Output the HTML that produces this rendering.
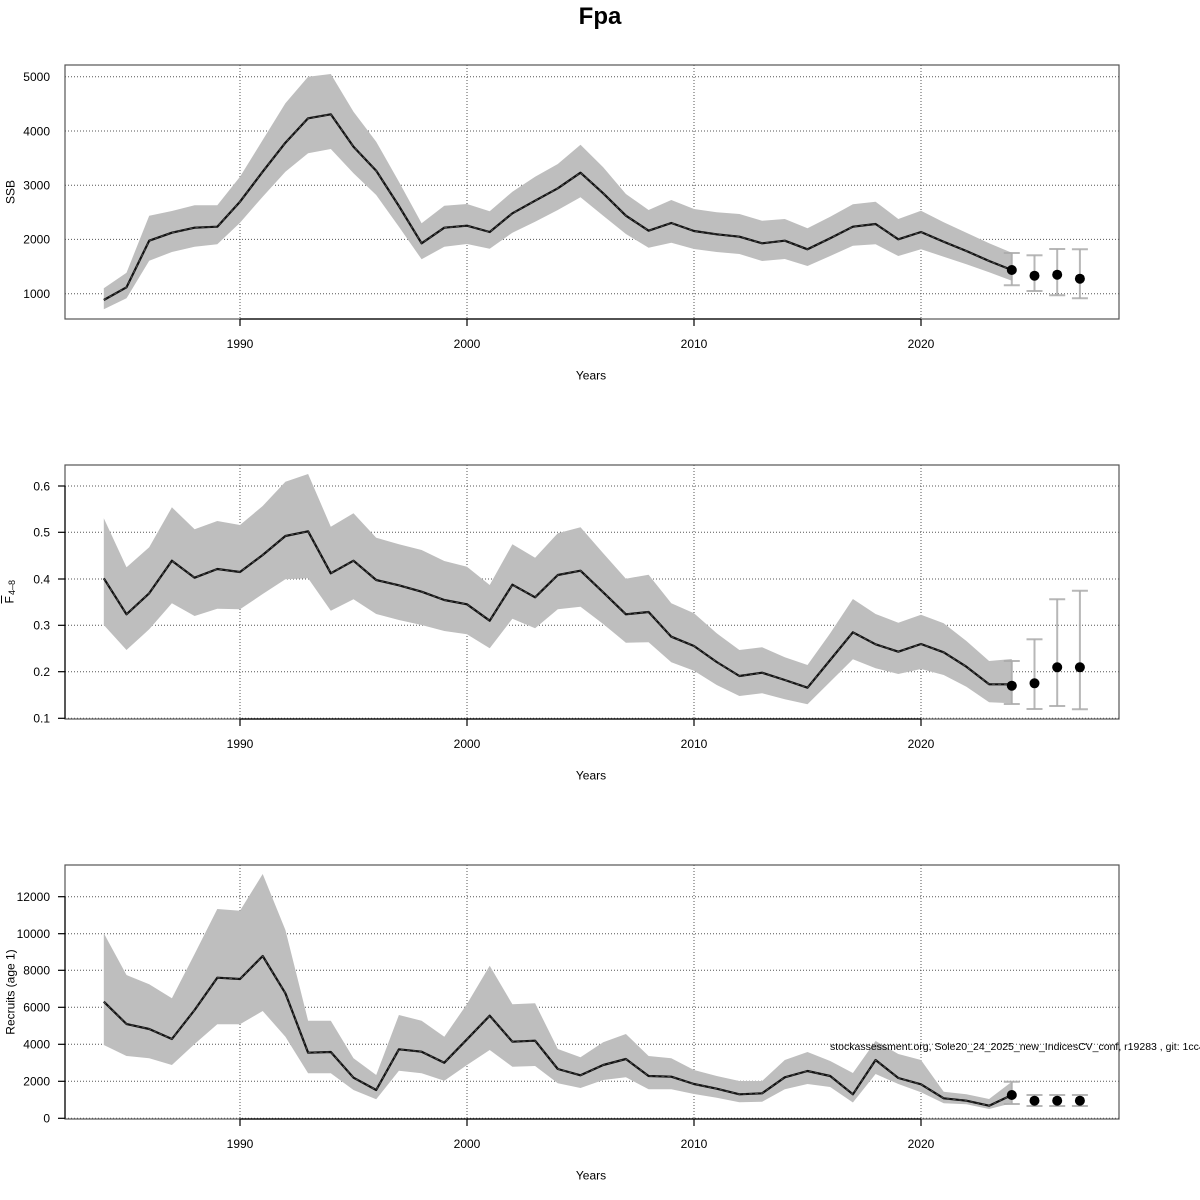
<!DOCTYPE html>
<html><head><meta charset="utf-8"><style>
html,body{margin:0;padding:0;background:#fff;}
svg{display:block;font-family:"Liberation Sans",Arial,sans-serif;}
</style></head><body>
<svg width="1200" height="1200" viewBox="0 0 1200 1200" xmlns="http://www.w3.org/2000/svg">
<rect width="1200" height="1200" fill="#fff"/>
<text x="600" y="24" font-size="24" font-weight="bold" text-anchor="middle">Fpa</text>

<!-- ============ PANEL 1 ============ -->
<g stroke="#555" stroke-width="1" stroke-dasharray="1 2" fill="none">
<line x1="65" x2="1119" y1="293.7" y2="293.7"/><line x1="65" x2="1119" y1="239.4" y2="239.4"/><line x1="65" x2="1119" y1="185.2" y2="185.2"/><line x1="65" x2="1119" y1="131" y2="131"/><line x1="65" x2="1119" y1="76.7" y2="76.7"/>
<line x1="240" x2="240" y1="65" y2="319"/><line x1="467" x2="467" y1="65" y2="319"/><line x1="694" x2="694" y1="65" y2="319"/><line x1="921" x2="921" y1="65" y2="319"/>
</g>
<polygon fill="#bebebe" points="103.8,288.3 126.5,272.7 149.2,215.7 171.9,211 194.6,205.3 217.3,205.3 240,176.7 262.7,140 285.4,103.3 308.1,76.7 330.8,74 353.5,111.7 376.2,141.7 398.9,181.7 421.6,223.3 444.3,205.7 467,204 489.7,211.3 512.4,191.7 535.1,176.7 557.8,164 580.5,144.7 603.2,167.3 625.9,194 648.6,210 671.3,200 694,209 716.7,212.3 739.4,214 762.1,220.7 784.8,219 807.5,228.3 830.2,216.7 852.9,204.3 875.6,201.7 898.3,219 921,210.7 943.7,222.3 966.4,232.7 989.1,243.3 1011.8,252.7 1011.8,280.7 989.1,272.3 966.4,264.3 943.7,256.7 921,249.3 898.3,256 875.6,244.3 852.9,245.7 830.2,256 807.5,266 784.8,259 762.1,261 739.4,254 716.7,252 694,249 671.3,242.7 648.6,247.7 625.9,234 603.2,215.7 580.5,197.3 557.8,210 535.1,221.7 512.4,232.7 489.7,248.7 467,244 444.3,246.7 421.6,259.3 398.9,226.7 376.2,195 353.5,173.3 330.8,149 308.1,153.3 285.4,171.7 262.7,196.7 240,222.7 217.3,244.3 194.6,246.7 171.9,252 149.2,260.7 126.5,298.3 103.8,309.3"/>
<g fill="none" stroke-linejoin="round">
<polyline stroke="#111" stroke-width="2.2" points="103.8,300 126.5,287.3 149.2,240.7 171.9,232.7 194.6,227.7 217.3,226.7 240,201.7 262.7,171.7 285.4,142.7 308.1,118.3 330.8,114.3 353.5,146.7 376.2,170.7 398.9,206 421.6,243.3 444.3,227.7 467,225.7 489.7,232 512.4,213.3 535.1,200.7 557.8,188.3 580.5,172.7 603.2,193.3 625.9,215.7 648.6,230.7 671.3,223 694,231 716.7,234.3 739.4,236.7 762.1,243.3 784.8,240.7 807.5,249.3 830.2,238.3 852.9,226.7 875.6,224 898.3,239.3 921,232 943.7,241.7 966.4,251 989.1,261 1011.8,270"/>
<polyline stroke="#555" stroke-width="0.8" stroke-dasharray="3 3" points="103.8,300 126.5,287.3 149.2,240.7 171.9,232.7 194.6,227.7 217.3,226.7 240,201.7 262.7,171.7 285.4,142.7 308.1,118.3 330.8,114.3 353.5,146.7 376.2,170.7 398.9,206 421.6,243.3 444.3,227.7 467,225.7 489.7,232 512.4,213.3 535.1,200.7 557.8,188.3 580.5,172.7 603.2,193.3 625.9,215.7 648.6,230.7 671.3,223 694,231 716.7,234.3 739.4,236.7 762.1,243.3 784.8,240.7 807.5,249.3 830.2,238.3 852.9,226.7 875.6,224 898.3,239.3 921,232 943.7,241.7 966.4,251 989.1,261 1011.8,270"/>
</g>
<g stroke="#aaa" stroke-opacity="0.85" stroke-width="2" fill="none">
<line x1="1011.8" x2="1011.8" y1="253" y2="285.3"/><line x1="1003.8" x2="1019.8" y1="253" y2="253"/><line x1="1003.8" x2="1019.8" y1="285.3" y2="285.3"/>
<line x1="1034.5" x2="1034.5" y1="255.3" y2="291"/><line x1="1026.5" x2="1042.5" y1="255.3" y2="255.3"/><line x1="1026.5" x2="1042.5" y1="291" y2="291"/>
<line x1="1057.2" x2="1057.2" y1="249" y2="295.3"/><line x1="1049.2" x2="1065.2" y1="249" y2="249"/><line x1="1049.2" x2="1065.2" y1="295.3" y2="295.3"/>
<line x1="1079.9" x2="1079.9" y1="249.3" y2="298.3"/><line x1="1071.9" x2="1087.9" y1="249.3" y2="249.3"/><line x1="1071.9" x2="1087.9" y1="298.3" y2="298.3"/>
</g>
<g fill="#000"><circle cx="1011.8" cy="270" r="5"/><circle cx="1034.5" cy="275.7" r="5"/><circle cx="1057.2" cy="274.7" r="5"/><circle cx="1079.9" cy="278.7" r="5"/></g>
<rect x="65" y="65" width="1054" height="254" fill="none" stroke="#555" stroke-width="1.2"/>
<g stroke="#000" stroke-width="1.2"><line x1="240" x2="921" y1="319" y2="319"/><line x1="240" x2="240" y1="319" y2="326"/><line x1="467" x2="467" y1="319" y2="326"/><line x1="694" x2="694" y1="319" y2="326"/><line x1="921" x2="921" y1="319" y2="326"/></g>
<g font-size="12" fill="#000">
<g text-anchor="end"><text x="50" y="298">1000</text><text x="50" y="243.7">2000</text><text x="50" y="189.5">3000</text><text x="50" y="135.3">4000</text><text x="50" y="81">5000</text></g>
<g text-anchor="middle"><text x="240" y="348">1990</text><text x="467" y="348">2000</text><text x="694" y="348">2010</text><text x="921" y="348">2020</text><text x="591" y="379.5">Years</text></g>
<text transform="translate(14.5,192) rotate(-90)" text-anchor="middle">SSB</text>
</g>

<!-- ============ PANEL 2 ============ -->
<g stroke="#555" stroke-width="1" stroke-dasharray="1 2" fill="none">
<line x1="65" x2="1119" y1="718.3" y2="718.3"/><line x1="65" x2="1119" y1="671.7" y2="671.7"/><line x1="65" x2="1119" y1="625.3" y2="625.3"/><line x1="65" x2="1119" y1="579" y2="579"/><line x1="65" x2="1119" y1="532.3" y2="532.3"/><line x1="65" x2="1119" y1="486" y2="486"/>
<line x1="240" x2="240" y1="465" y2="719"/><line x1="467" x2="467" y1="465" y2="719"/><line x1="694" x2="694" y1="465" y2="719"/><line x1="921" x2="921" y1="465" y2="719"/>
</g>
<polygon fill="#bebebe" points="103.8,518.3 126.5,567.3 149.2,547.3 171.9,507.3 194.6,529.3 217.3,521 240,525 262.7,506 285.4,481.7 308.1,474 330.8,526.7 353.5,513.3 376.2,537.7 398.9,544.3 421.6,550 444.3,561 467,566.7 489.7,585 512.4,544.3 535.1,557.7 557.8,533.3 580.5,527.3 603.2,553.3 625.9,578.7 648.6,574.7 671.3,603.3 694,613.3 716.7,633.3 739.4,650 762.1,647.3 784.8,657.3 807.5,665 830.2,633.3 852.9,599 875.6,614 898.3,622.7 921,614.7 943.7,623.3 966.4,641 989.1,661 1011.8,659 1011.8,703.3 989.1,702.3 966.4,686.7 943.7,675 921,669 898.3,674 875.6,668.3 852.9,659.3 830.2,681.7 807.5,704.3 784.8,699.3 762.1,693.3 739.4,696 716.7,685 694,670.7 671.3,662.3 648.6,642.3 625.9,642.7 603.2,624 580.5,606.7 557.8,609.3 535.1,628.3 512.4,618.7 489.7,648.3 467,634.3 444.3,631 421.6,625 398.9,620 376.2,614 353.5,599.3 330.8,610.7 308.1,578.3 285.4,579.3 262.7,594 240,609.3 217.3,608.7 194.6,616 171.9,603.3 149.2,629.3 126.5,650 103.8,625"/>
<g fill="none" stroke-linejoin="round">
<polyline stroke="#111" stroke-width="2.2" points="103.8,578.3 126.5,614.3 149.2,593.3 171.9,560.7 194.6,577.7 217.3,569 240,572 262.7,555 285.4,536 308.1,531.3 330.8,573.3 353.5,560.7 376.2,580 398.9,585.3 421.6,591.7 444.3,600 467,604.3 489.7,620.7 512.4,584.7 535.1,597.3 557.8,575 580.5,570.7 603.2,592.3 625.9,614.3 648.6,612 671.3,636.7 694,646 716.7,662 739.4,676 762.1,672.7 784.8,680 807.5,687.7 830.2,660 852.9,632.3 875.6,644.3 898.3,651.7 921,644 943.7,652.3 966.4,666.7 989.1,684.3 1011.8,684.3"/>
<polyline stroke="#555" stroke-width="0.8" stroke-dasharray="3 3" points="103.8,578.3 126.5,614.3 149.2,593.3 171.9,560.7 194.6,577.7 217.3,569 240,572 262.7,555 285.4,536 308.1,531.3 330.8,573.3 353.5,560.7 376.2,580 398.9,585.3 421.6,591.7 444.3,600 467,604.3 489.7,620.7 512.4,584.7 535.1,597.3 557.8,575 580.5,570.7 603.2,592.3 625.9,614.3 648.6,612 671.3,636.7 694,646 716.7,662 739.4,676 762.1,672.7 784.8,680 807.5,687.7 830.2,660 852.9,632.3 875.6,644.3 898.3,651.7 921,644 943.7,652.3 966.4,666.7 989.1,684.3 1011.8,684.3"/>
</g>
<g stroke="#aaa" stroke-opacity="0.85" stroke-width="2" fill="none">
<line x1="1011.8" x2="1011.8" y1="661" y2="704"/><line x1="1003.8" x2="1019.8" y1="661" y2="661"/><line x1="1003.8" x2="1019.8" y1="704" y2="704"/>
<line x1="1034.5" x2="1034.5" y1="639.3" y2="709"/><line x1="1026.5" x2="1042.5" y1="639.3" y2="639.3"/><line x1="1026.5" x2="1042.5" y1="709" y2="709"/>
<line x1="1057.2" x2="1057.2" y1="599.3" y2="706"/><line x1="1049.2" x2="1065.2" y1="599.3" y2="599.3"/><line x1="1049.2" x2="1065.2" y1="706" y2="706"/>
<line x1="1079.9" x2="1079.9" y1="590.7" y2="709.3"/><line x1="1071.9" x2="1087.9" y1="590.7" y2="590.7"/><line x1="1071.9" x2="1087.9" y1="709.3" y2="709.3"/>
</g>
<g fill="#000"><circle cx="1011.8" cy="685.7" r="5"/><circle cx="1034.5" cy="683.3" r="5"/><circle cx="1057.2" cy="667.3" r="5"/><circle cx="1079.9" cy="667.3" r="5"/></g>
<rect x="65" y="465" width="1054" height="254" fill="none" stroke="#555" stroke-width="1.2"/>
<g stroke="#000" stroke-width="1.2">
<line x1="240" x2="921" y1="719" y2="719"/><line x1="240" x2="240" y1="719" y2="726"/><line x1="467" x2="467" y1="719" y2="726"/><line x1="694" x2="694" y1="719" y2="726"/><line x1="921" x2="921" y1="719" y2="726"/>
<line x1="65" x2="65" y1="486" y2="718.3"/>
<line x1="58" x2="65" y1="718.3" y2="718.3"/><line x1="58" x2="65" y1="671.7" y2="671.7"/><line x1="58" x2="65" y1="625.3" y2="625.3"/><line x1="58" x2="65" y1="579" y2="579"/><line x1="58" x2="65" y1="532.3" y2="532.3"/><line x1="58" x2="65" y1="486" y2="486"/>
</g>
<g font-size="12" fill="#000">
<g text-anchor="end"><text x="50" y="722.6">0.1</text><text x="50" y="676">0.2</text><text x="50" y="629.6">0.3</text><text x="50" y="583.3">0.4</text><text x="50" y="536.6">0.5</text><text x="50" y="490.3">0.6</text></g>
<g text-anchor="middle"><text x="240" y="748">1990</text><text x="467" y="748">2000</text><text x="694" y="748">2010</text><text x="921" y="748">2020</text><text x="591" y="779.5">Years</text></g>
<g transform="translate(13.5,592) rotate(-90)">
<text x="-11.5" y="0" font-size="12">F</text>
<text x="-3" y="1.5" font-size="9">4–8</text>
<line x1="-11.5" x2="-3.5" y1="-12" y2="-12" stroke="#000" stroke-width="1"/>
</g>
</g>

<!-- ============ PANEL 3 ============ -->
<g stroke="#555" stroke-width="1" stroke-dasharray="1 2" fill="none">
<line x1="65" x2="1119" y1="1118.3" y2="1118.3"/><line x1="65" x2="1119" y1="1081.3" y2="1081.3"/><line x1="65" x2="1119" y1="1044.3" y2="1044.3"/><line x1="65" x2="1119" y1="1007.3" y2="1007.3"/><line x1="65" x2="1119" y1="970.3" y2="970.3"/><line x1="65" x2="1119" y1="933.7" y2="933.7"/><line x1="65" x2="1119" y1="896.7" y2="896.7"/>
<line x1="240" x2="240" y1="865" y2="1119"/><line x1="467" x2="467" y1="865" y2="1119"/><line x1="694" x2="694" y1="865" y2="1119"/><line x1="921" x2="921" y1="865" y2="1119"/>
</g>
<polygon fill="#bebebe" points="103.8,933.3 126.5,975 149.2,984.3 171.9,998.3 194.6,954 217.3,909 240,910.7 262.7,874 285.4,930 308.1,1020.7 330.8,1020.7 353.5,1058.3 376.2,1075 398.9,1015 421.6,1020.7 444.3,1036.7 467,1004 489.7,965.7 512.4,1004.3 535.1,1003.3 557.8,1049 580.5,1057.3 603.2,1042.3 625.9,1034 648.6,1056 671.3,1058.3 694,1070 716.7,1076 739.4,1081 762.1,1081 784.8,1060 807.5,1052 830.2,1061 852.9,1073 875.6,1041 898.3,1054 921,1060 943.7,1091.7 966.4,1094.3 989.1,1099 1011.8,1081.7 1011.8,1103.3 989.1,1109 966.4,1104.3 943.7,1103.3 921,1092.3 898.3,1084 875.6,1074 852.9,1102.5 830.2,1087 807.5,1084 784.8,1089.3 762.1,1101.7 739.4,1102.3 716.7,1097.7 694,1094 671.3,1089.3 648.6,1089.3 625.9,1077.3 603.2,1080 580.5,1088 557.8,1083.3 535.1,1066 512.4,1066.7 489.7,1050 467,1065 444.3,1080.7 421.6,1073.3 398.9,1070.7 376.2,1099.3 353.5,1090 330.8,1073.3 308.1,1073.3 285.4,1036.7 262.7,1011 240,1024.3 217.3,1024.3 194.6,1044 171.9,1065 149.2,1058.3 126.5,1056 103.8,1045"/>
<g fill="none" stroke-linejoin="round">
<polyline stroke="#111" stroke-width="2.2" points="103.8,1001.7 126.5,1024 149.2,1029 171.9,1039 194.6,1010 217.3,977.7 240,979 262.7,956 285.4,993.3 308.1,1052.7 330.8,1052 353.5,1077.7 376.2,1090 398.9,1049.3 421.6,1051.7 444.3,1062.7 467,1039.3 489.7,1015.7 512.4,1041.7 535.1,1040.7 557.8,1069 580.5,1075.3 603.2,1065 625.9,1059 648.6,1076 671.3,1076.7 694,1084 716.7,1088.7 739.4,1094.3 762.1,1093.3 784.8,1077.3 807.5,1071 830.2,1076 852.9,1094.3 875.6,1060 898.3,1078 921,1084.3 943.7,1098.3 966.4,1100.7 989.1,1105.7 1011.8,1095"/>
<polyline stroke="#555" stroke-width="0.8" stroke-dasharray="3 3" points="103.8,1001.7 126.5,1024 149.2,1029 171.9,1039 194.6,1010 217.3,977.7 240,979 262.7,956 285.4,993.3 308.1,1052.7 330.8,1052 353.5,1077.7 376.2,1090 398.9,1049.3 421.6,1051.7 444.3,1062.7 467,1039.3 489.7,1015.7 512.4,1041.7 535.1,1040.7 557.8,1069 580.5,1075.3 603.2,1065 625.9,1059 648.6,1076 671.3,1076.7 694,1084 716.7,1088.7 739.4,1094.3 762.1,1093.3 784.8,1077.3 807.5,1071 830.2,1076 852.9,1094.3 875.6,1060 898.3,1078 921,1084.3 943.7,1098.3 966.4,1100.7 989.1,1105.7 1011.8,1095"/>
</g>
<g stroke="#aaa" stroke-opacity="0.85" stroke-width="2" fill="none">
<line x1="1011.8" x2="1011.8" y1="1081.7" y2="1104"/><line x1="1003.8" x2="1019.8" y1="1081.7" y2="1081.7"/><line x1="1003.8" x2="1019.8" y1="1104" y2="1104"/>
<line x1="1034.5" x2="1034.5" y1="1095" y2="1106"/><line x1="1026.5" x2="1042.5" y1="1095" y2="1095"/><line x1="1026.5" x2="1042.5" y1="1106" y2="1106"/>
<line x1="1057.2" x2="1057.2" y1="1095" y2="1106"/><line x1="1049.2" x2="1065.2" y1="1095" y2="1095"/><line x1="1049.2" x2="1065.2" y1="1106" y2="1106"/>
<line x1="1079.9" x2="1079.9" y1="1095" y2="1106"/><line x1="1071.9" x2="1087.9" y1="1095" y2="1095"/><line x1="1071.9" x2="1087.9" y1="1106" y2="1106"/>
</g>
<g fill="#000"><circle cx="1011.8" cy="1095" r="5"/><circle cx="1034.5" cy="1100.7" r="5"/><circle cx="1057.2" cy="1100.7" r="5"/><circle cx="1079.9" cy="1100.7" r="5"/></g>
<rect x="65" y="865" width="1054" height="254" fill="none" stroke="#555" stroke-width="1.2"/>
<g stroke="#000" stroke-width="1.2">
<line x1="240" x2="921" y1="1119" y2="1119"/><line x1="240" x2="240" y1="1119" y2="1126"/><line x1="467" x2="467" y1="1119" y2="1126"/><line x1="694" x2="694" y1="1119" y2="1126"/><line x1="921" x2="921" y1="1119" y2="1126"/>
<line x1="65" x2="65" y1="896.7" y2="1118.3"/>
<line x1="58" x2="65" y1="1118.3" y2="1118.3"/><line x1="58" x2="65" y1="1081.3" y2="1081.3"/><line x1="58" x2="65" y1="1044.3" y2="1044.3"/><line x1="58" x2="65" y1="1007.3" y2="1007.3"/><line x1="58" x2="65" y1="970.3" y2="970.3"/><line x1="58" x2="65" y1="933.7" y2="933.7"/><line x1="58" x2="65" y1="896.7" y2="896.7"/>
</g>
<g font-size="12" fill="#000">
<g text-anchor="end"><text x="50" y="1122.6">0</text><text x="50" y="1085.6">2000</text><text x="50" y="1048.6">4000</text><text x="50" y="1011.6">6000</text><text x="50" y="974.6">8000</text><text x="50" y="938">10000</text><text x="50" y="901">12000</text></g>
<g text-anchor="middle"><text x="240" y="1148">1990</text><text x="467" y="1148">2000</text><text x="694" y="1148">2010</text><text x="921" y="1148">2020</text><text x="591" y="1179.5">Years</text></g>
<text transform="translate(14.5,992) rotate(-90)" text-anchor="middle">Recruits (age 1)</text>
</g>
<text x="830" y="1050" font-size="10.5" fill="#000">stockassessment.org, Sole20_24_2025_new_IndicesCV_conf, r19283 , git: 1cc4</text>
</svg>
</body></html>
